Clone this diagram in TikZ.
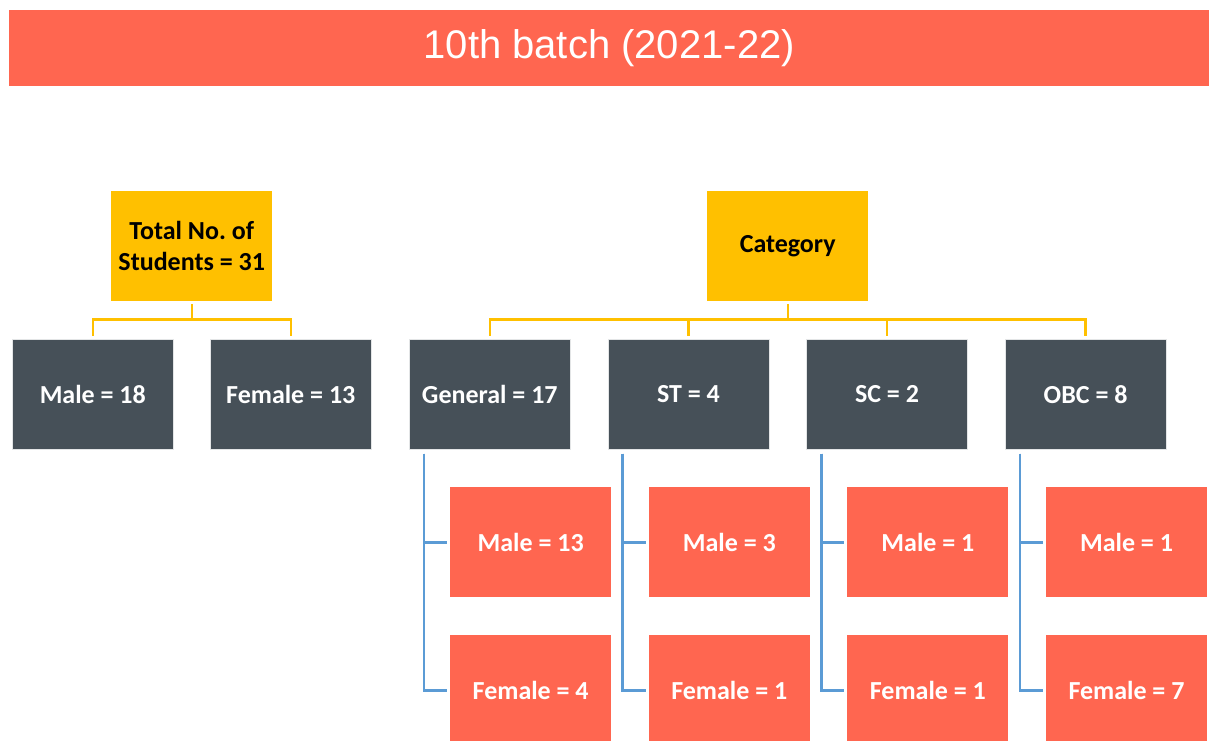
\documentclass[tikz,border=0pt]{standalone}
\usepackage{fontspec}
\setmainfont{Carlito}
\newfontfamily\titlefont{Liberation Sans}
\usepackage{tikz}
\definecolor{coralMain}{HTML}{FF6650}
\definecolor{slateDark}{HTML}{465058}
\definecolor{amberMain}{HTML}{FFC000}
\definecolor{blueLine}{HTML}{5B9BD5}

\begin{document}
\begin{tikzpicture}[x=1pt,y=-1pt,
    titlebar/.style={fill=coralMain, text=white, anchor=north west, inner sep=0pt,
        minimum width=1200pt, minimum height=76pt, font=\titlefont\fontsize{40}{46}\selectfont},
    headbox/.style={fill=amberMain, text=black, anchor=north west, inner sep=0pt,
        minimum width=161pt, minimum height=110pt, align=center,
        font=\bfseries\fontsize{26}{31}\selectfont},
    groupbox/.style={fill=slateDark, draw=white!85!slateDark, line width=0.6pt, text=white,
        anchor=north west, inner sep=0pt, minimum width=161pt, minimum height=110pt,
        font=\bfseries\fontsize{26}{31}\selectfont},
    splitbox/.style={fill=coralMain, text=white, anchor=north west, inner sep=0pt,
        minimum width=161pt, minimum height=110pt, font=\bfseries\fontsize{26}{31}\selectfont},
    yellowlink/.style={draw=amberMain, line width=2.4pt, shorten <=3pt, shorten >=3pt},
    bluelink/.style={draw=blueLine, line width=2.6pt, shorten <=4pt, shorten >=3pt}]

    \clip (0,0) rectangle (1209,740);
    \fill[white] (0,0) rectangle (1209,740);

    % title
    \node[titlebar] (title) at (9,10) {\raisebox{-3pt}{10th batch (2021-22)}};

    % left tree
    \node[headbox] (total) at (111,191) {Total No.\ of\\Students = 31};
    \node[groupbox] (male) at (12,339) {Male = 18};
    \node[groupbox] (female) at (210,339) {Female = 13};
    \draw[yellowlink] (total.south) -- ++(0,18) -| (male.north);
    \draw[yellowlink] (total.south) -- ++(0,18) -| (female.north);

    % right tree
    \node[headbox] (category) at (707,191) {Category};
    \foreach \name/\lab/\m/\f [count=\i from 0] in
        {gen/General = 17/13/4, st/ST = 4/3/1, sc/SC = 2/1/1, obc/OBC = 8/1/7}
    {
        \node[groupbox] (\name) at ({409+198.6*\i},339) {\lab};
        \node[splitbox] (\name m) at ({450+198.6*\i},487) {Male = \m};
        \node[splitbox] (\name f) at ({450+198.6*\i},635) {Female = \f};
        \draw[yellowlink] (category.south) -- ++(0,18) -| (\name.north);
        \draw[bluelink] ([xshift=15pt]\name.south west) |- (\name m.west);
        \draw[bluelink] ([xshift=15pt]\name.south west) |- (\name f.west);
    }

\end{tikzpicture}
\end{document}
